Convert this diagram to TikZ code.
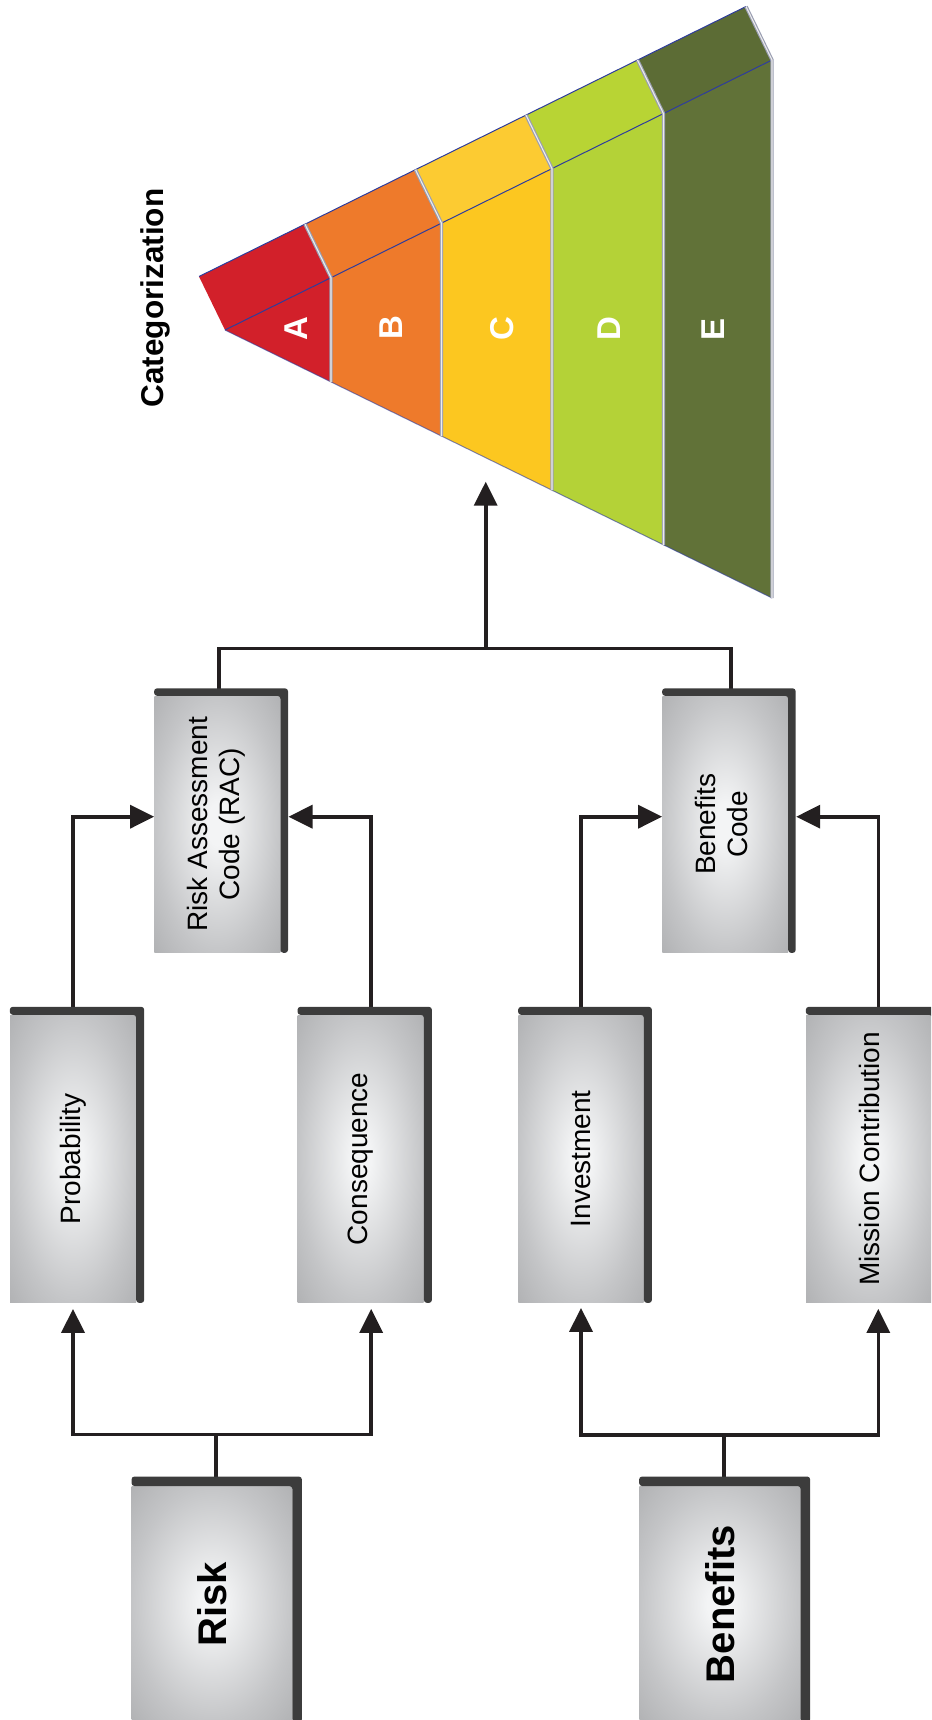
\documentclass[tikz,border=0pt]{standalone}
\usepackage{fontspec}
\setmainfont{Liberation Sans}
\usepackage{graphicx}
\usetikzlibrary{arrows.meta,calc}
\definecolor{boxin}{HTML}{F3F4F5}
\definecolor{boxout}{HTML}{C4C5C7}
\definecolor{boxcorner}{HTML}{B0B1B3}
\definecolor{bandcol}{HTML}{3C3C3C}
\definecolor{linecol}{HTML}{231F20}
\definecolor{cA}{HTML}{D2202A}
\definecolor{cB}{HTML}{EE7A2B}
\definecolor{cC}{HTML}{FCC720}
\definecolor{cD}{HTML}{B4D237}
\definecolor{cE}{HTML}{617238}
\definecolor{edgeblue}{HTML}{2E3C9C}
\definecolor{divgray}{HTML}{9A9EB2}
\pgfdeclareradialshading{boxshade}{\pgfpoint{0bp}{0bp}}{color(0bp)=(boxin); color(4bp)=(boxin); color(25bp)=(boxout); color(36bp)=(boxcorner); color(50bp)=(boxcorner)}
\newcommand{\bandon}[2]{%
  \fill[bandcol, rounded corners=3pt] (#1.north west) -- ([yshift=#2]#1.north west) -- ([xshift=#2,yshift=#2]#1.north east) -- ([xshift=#2]#1.south east) -- (#1.south east) -- (#1.north east) -- cycle;}
\begin{document}
\begin{tikzpicture}[x=1pt,y=-1pt,
  gbox/.style={rectangle, inner sep=0pt, shade, shading=boxshade, draw=none, font=\fontsize{28}{32}\selectfont},
  bigbox/.style={gbox, font=\bfseries\fontsize{40}{44}\selectfont},
  ln/.style={draw=linecol, line width=3.6pt},
  arr/.style={ln, -{Triangle[length=24pt,width=23pt]}},
  blueedge/.style={draw=edgeblue, line width=1pt},
  divider/.style={draw=divgray, line width=3.4pt, line join=round},
  dividerhi/.style={draw=white!85!gray, line width=1.1pt, line join=round},
  letter/.style={text=white, font=\bfseries\fontsize{33}{33}\selectfont, rotate=90, inner sep=0pt}]
\useasboundingbox (0,0) rectangle (931,1720);
\clip (0,0) rectangle (931,1720);

% ---------- categorization pyramid ----------
\coordinate (Q0) at (225,330);   \coordinate (L0) at (225,330);   \coordinate (T0) at (199,276.5);
\coordinate (Q1) at (331,277.7); \coordinate (L1) at (331,381.9); \coordinate (T1) at (305,224.2);
\coordinate (Q2) at (441.5,223.2); \coordinate (L2) at (441.5,436); \coordinate (T2) at (415.5,169.7);
\coordinate (Q3) at (552,168.6); \coordinate (L3) at (552,490.2); \coordinate (T3) at (526,115.1);
\coordinate (Q4) at (663.5,113.6); \coordinate (L4) at (663.5,544.9); \coordinate (T4) at (637.5,60.1);
\coordinate (Q5) at (772,60);    \coordinate (L5) at (772,598);   \coordinate (T5) at (746,6.5);

\fill[cA] (Q0) -- (Q1) -- (L1) -- cycle;
\fill[cA] (T0) -- (T1) -- (Q1) -- (Q0) -- cycle;
\fill[cB] (Q1) -- (Q2) -- (L2) -- (L1) -- cycle;
\fill[cB] (T1) -- (T2) -- (Q2) -- (Q1) -- cycle;
\fill[cC] (Q2) -- (Q3) -- (L3) -- (L2) -- cycle;
\fill[cC!92!white] (T2) -- (T3) -- (Q3) -- (Q2) -- cycle;
\fill[cD] (Q3) -- (Q4) -- (L4) -- (L3) -- cycle;
\fill[cD!95!yellow] (T3) -- (T4) -- (Q4) -- (Q3) -- cycle;
\fill[cE] (Q4) -- (Q5) -- (L5) -- (L4) -- cycle;
\fill[cE!95!black] (T4) -- (T5) -- (Q5) -- (Q4) -- cycle;

\draw[blueedge] (T0) -- (T5);
\draw[blueedge] (Q0) -- (Q5);
\draw[blueedge, draw opacity=0.6] (L0) -- (L5);
\foreach \k in {1,...,5}{
  \draw[divider] (T\k) -- (Q\k) -- (L\k);
  \draw[dividerhi] (T\k) -- (Q\k) -- (L\k);
}

\node[letter] (la) at (296,329) {A};
\node[letter] (lb) at (391,328) {B};
\node[letter] (lc) at (502.5,329) {C};
\node[letter] (ld) at (609,329) {D};
\node[letter] (le) at (713,329) {E};

\node[rotate=90, inner sep=0pt, font=\bfseries\fontsize{31.5}{34}\selectfont] (cat) at (155.8,298) {Categorization};

% ---------- boxes ----------
\node[gbox, minimum width=126pt, minimum height=287.7pt] (prob) at (73,1158.85) {\rotatebox{90}{Probability}};
\node[gbox, minimum width=126pt, minimum height=287.7pt] (cons) at (360.7,1158.85) {\rotatebox{90}{Consequence}};
\node[gbox, minimum width=125.4pt, minimum height=287.7pt] (inv) at (581,1158.85) {\rotatebox{90}{Investment}};
\node[gbox, minimum width=126pt, minimum height=287.7pt] (mis) at (869,1158.85) {\rotatebox{90}{Mission Contribution}};
\node[gbox, minimum width=126pt, minimum height=256.7pt] (rac) at (217.3,824.35) {\rotatebox{90}{\begin{tabular}{@{}c@{}}Risk Assessment\\Code (RAC)\end{tabular}}};
\node[gbox, minimum width=125.7pt, minimum height=256.7pt] (bc) at (725.15,824.35) {\rotatebox{90}{\begin{tabular}{@{}c@{}}Benefits\\Code\end{tabular}}};
\node[bigbox, minimum width=160.5pt, minimum height=235.8pt] (risk) at (211.95,1604.1) {\rotatebox{90}{Risk}};
\node[bigbox, minimum width=161.2pt, minimum height=235.8pt] (bens) at (719.9,1604.1) {\rotatebox{90}{Benefits}};

% ---------- connectors ----------
\coordinate (rj) at (215.7,1434.5);
\coordinate (bj) at (724,1435);
\coordinate (tj) at (485.7,648.5);
\coordinate (ptip) at (485.7,481.7);

\draw[ln] (rj) -- (rj |- risk.north);
\draw[arr] (rj) -| ([yshift=-6pt]prob.south);
\draw[arr] (rj) -| ([xshift=10.5pt,yshift=-6pt]cons.south);
\draw[arr] (prob.north) |- ([yshift=7.65pt]rac.west);
\draw[arr] ([xshift=10.3pt]cons.north) |- ([xshift=8pt,yshift=7.65pt]rac.east);

\draw[ln] (bj) -- (bj |- bens.north);
\draw[arr] (bj) -| ([yshift=-5pt]inv.south);
\draw[arr] (bj) -| ([xshift=9.3pt,yshift=-6pt]mis.south);
\draw[arr] (inv.north) |- ([yshift=7.65pt]bc.west);
\draw[arr] ([xshift=9.3pt]mis.north) |- ([xshift=8pt,yshift=7.65pt]bc.east);

\draw[ln] ([xshift=1.7pt]rac.north) |- (tj);
\draw[ln] ([xshift=5.8pt]bc.north) |- (tj);
\draw[arr] (tj) -- (ptip);

% ---------- dark bands ----------
\bandon{prob}{8pt}
\bandon{cons}{8pt}
\bandon{inv}{8pt}
\bandon{mis}{8pt}
\bandon{rac}{7.5pt}
\bandon{bc}{7.5pt}
\bandon{risk}{9.5pt}
\bandon{bens}{9.5pt}
\end{tikzpicture}
\end{document}
